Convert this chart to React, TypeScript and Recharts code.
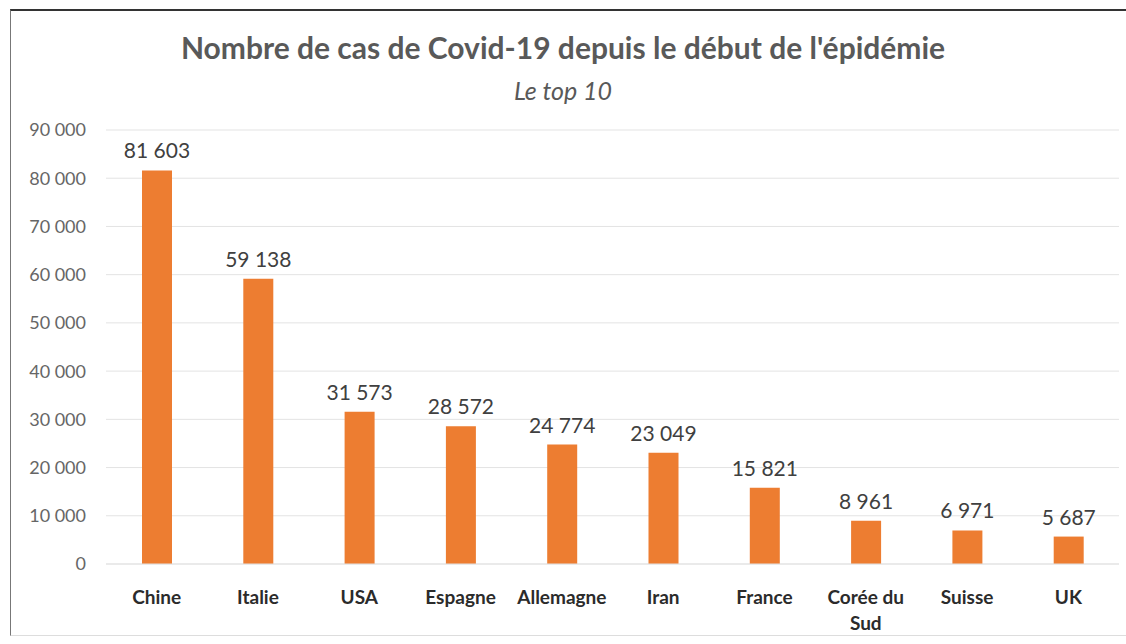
import React from "react";
import { BarChart, Bar, XAxis, YAxis, CartesianGrid, LabelList } from "recharts";

const categories = ["Chine", "Italie", "USA", "Espagne", "Allemagne", "Iran", "France", "Corée du Sud", "Suisse", "UK"];
const cases = [81603, 59138, 31573, 28572, 24774, 23049, 15821, 8961, 6971, 5687];
const yTicks = [0, 10000, 20000, 30000, 40000, 50000, 60000, 70000, 80000, 90000];

const data = categories.map((c, i) => ({ name: c, value: cases[i] }));

const fmt = (v: number) => String(v).replace(/\B(?=(\d{3})+(?!\d))/g, " ");

const FONT = "Lato, 'Open Sans', sans-serif";

const XTick = (props: any) => {
  const { x, y, payload } = props;
  const label: string = payload.value;
  let lines: string[] = [label];
  if (label.length > 10) {
    const words = label.split(" ");
    lines = [words.slice(0, -1).join(" "), words[words.length - 1]];
  }
  return (
    <g transform={`translate(${x},${y})`}>
      {lines.map((l, i) => (
        <text key={i} x={0} y={32 + i * 26} textAnchor="middle" fill="#2b2b2b" fontFamily={FONT} fontWeight={700} fontSize={19}>
          {l}
        </text>
      ))}
    </g>
  );
};

const ValueLabel = (props: any) => {
  const { x, y, width, value } = props;
  return (
    <text x={Number(x) + Number(width) / 2} y={Number(y) - 12} textAnchor="middle" fill="#404040" fontFamily={FONT} fontSize={21}>
      {fmt(Number(value))}
    </text>
  );
};

export default function App() {
  return (
    <div style={{ position: "absolute", left: 0, top: 0, width: 1126, height: 644, background: "#fff", overflow: "hidden" }}>
      <div style={{ position: "absolute", left: 10, top: 9, width: 1130, height: 627, borderTop: "2px solid #333", borderLeft: "1px solid #777", borderBottom: "1px solid #ddd", boxSizing: "border-box" }} />
      <div style={{ position: "absolute", left: 0, width: 1126, top: 29, textAlign: "center", fontFamily: FONT, fontWeight: 700, fontSize: 30, color: "#595959", lineHeight: "36px" }}>
        Nombre de cas de Covid-19 depuis le début de l'épidémie
      </div>
      <div style={{ position: "absolute", left: 0, width: 1126, top: 74, textAlign: "center", fontFamily: FONT, fontStyle: "italic", fontSize: 25, color: "#595959", lineHeight: "32px" }}>
        Le top 10
      </div>
      <div style={{ position: "absolute", left: 0, top: 0 }}>
        <BarChart width={1126} height={644} data={data} margin={{ top: 130, right: 7, bottom: 50, left: 0 }} barCategoryGap={0}>
          <CartesianGrid vertical={false} stroke="#e3e3e3" />
          <XAxis dataKey="name" height={30} tickLine={false} axisLine={{ stroke: "#e3e3e3" }} interval={0} tick={<XTick />} />
          <YAxis
            width={106}
            domain={[0, 90000]}
            ticks={yTicks}
            tickFormatter={fmt}
            tickLine={false}
            axisLine={false}
            tickMargin={14}
            tick={{ fill: "#666666", fontSize: 18, fontFamily: FONT }}
          />
          <Bar dataKey="value" fill="#ED7D31" barSize={30} isAnimationActive={false}>
            <LabelList dataKey="value" content={<ValueLabel />} />
          </Bar>
        </BarChart>
      </div>
    </div>
  );
}
